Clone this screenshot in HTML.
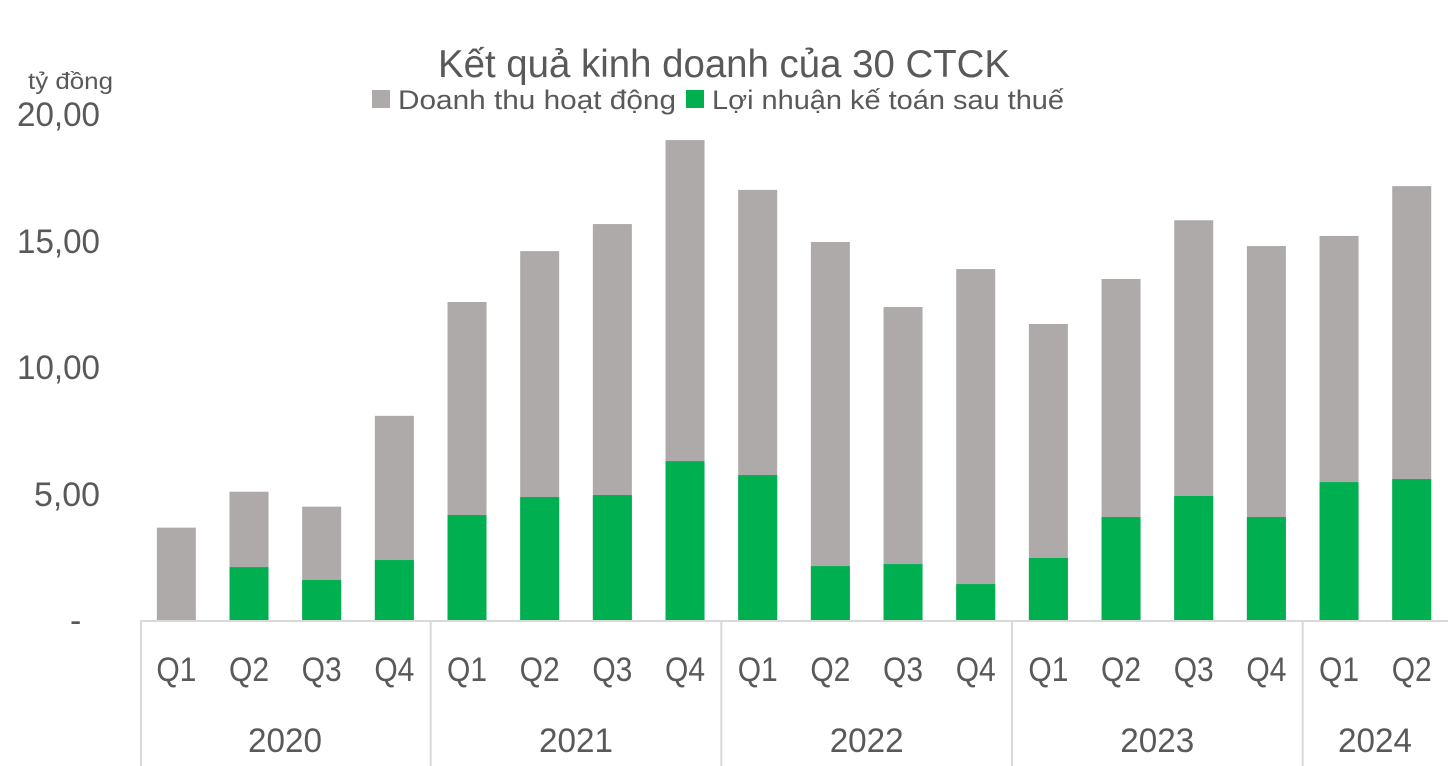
<!DOCTYPE html>
<html><head><meta charset="utf-8"><style>
html,body{margin:0;padding:0;background:#fff;}
svg{display:block;font-family:"Liberation Sans","DejaVu Sans",sans-serif;}
</style></head><body>
<svg width="1448" height="766" viewBox="0 0 1448 766" xmlns="http://www.w3.org/2000/svg">
<rect width="1448" height="766" fill="#fff"/>
<text x="438" y="77" font-size="39" fill="#595959" textLength="572" lengthAdjust="spacingAndGlyphs">Kết quả kinh doanh của 30 CTCK</text>
<rect x="372" y="90" width="18" height="18" fill="#aeaaaa"/>
<text x="398" y="109" font-size="27" fill="#595959" textLength="278" lengthAdjust="spacingAndGlyphs">Doanh thu hoạt động</text>
<rect x="686" y="90" width="18" height="18" fill="#00b050"/>
<text x="712" y="109" font-size="27" fill="#595959" textLength="352" lengthAdjust="spacingAndGlyphs">Lợi nhuận kế toán sau thuế</text>
<text x="28" y="89" font-size="23" fill="#595959" textLength="85" lengthAdjust="spacingAndGlyphs">tỷ đồng</text>
<g font-size="34" fill="#595959">
<text x="17" y="126" textLength="83" lengthAdjust="spacingAndGlyphs">20,00</text>
<text x="17" y="253" textLength="83" lengthAdjust="spacingAndGlyphs">15,00</text>
<text x="17" y="379" textLength="83" lengthAdjust="spacingAndGlyphs">10,00</text>
<text x="34" y="506" textLength="66" lengthAdjust="spacingAndGlyphs">5,00</text>
<text x="70" y="632">-</text>
</g>
<g id="bars"></g>
<line x1="140" y1="621" x2="1448" y2="621" stroke="#d9d9d9" stroke-width="2"/>
<g stroke="#d9d9d9" stroke-width="2">
<line x1="141" y1="621" x2="141" y2="766"/>
<line x1="430.7" y1="621" x2="430.7" y2="766"/>
<line x1="721.3" y1="621" x2="721.3" y2="766"/>
<line x1="1012" y1="621" x2="1012" y2="766"/>
<line x1="1302.7" y1="621" x2="1302.7" y2="766"/>
</g>
<g id="lbl" font-size="34" fill="#595959"></g>
<g font-size="34" fill="#595959">
<text x="248" y="752" textLength="74" lengthAdjust="spacingAndGlyphs">2020</text>
<text x="539" y="752" textLength="74" lengthAdjust="spacingAndGlyphs">2021</text>
<text x="829.7" y="752" textLength="74" lengthAdjust="spacingAndGlyphs">2022</text>
<text x="1120.3" y="752" textLength="74" lengthAdjust="spacingAndGlyphs">2023</text>
<text x="1338" y="752" textLength="74" lengthAdjust="spacingAndGlyphs">2024</text>
</g>
<script>
var tot=[3.65,5.07,4.48,8.07,12.57,14.58,15.65,18.97,17.0,14.94,12.37,13.87,11.7,13.48,15.8,14.78,15.18,17.15];
var gr=[0,2.09,1.58,2.37,4.15,4.86,4.94,6.28,5.73,2.13,2.21,1.42,2.45,4.07,4.9,4.07,5.45,5.57];
var ns="http://www.w3.org/2000/svg",b=document.getElementById("bars"),l=document.getElementById("lbl");
function r(x,y,w,h,c){var e=document.createElementNS(ns,"rect");e.setAttribute("x",x);e.setAttribute("y",y);e.setAttribute("width",w);e.setAttribute("height",h);e.setAttribute("fill",c);b.appendChild(e);}
var s=25.3,base=620;
for(var i=0;i<18;i++){var cx=140+72.67*(i+0.5);
r(cx-19.5,base-tot[i]*s,39,tot[i]*s,"#aeaaaa");
if(gr[i]>0)r(cx-19.5,base-gr[i]*s,39,gr[i]*s,"#00b050");
var t=document.createElementNS(ns,"text");t.setAttribute("x",cx-20);t.setAttribute("y",681);t.setAttribute("textLength",40);t.setAttribute("lengthAdjust","spacingAndGlyphs");t.textContent="Q"+((i%4)+1);l.appendChild(t);}
</script>
</svg>
</body></html>
